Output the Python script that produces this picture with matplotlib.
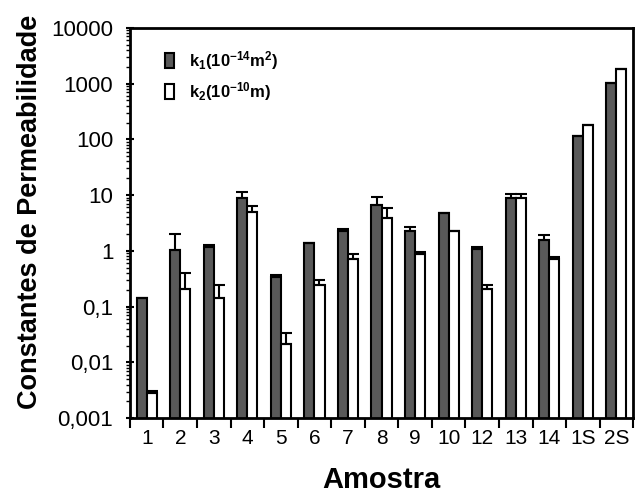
import matplotlib
matplotlib.use("Agg")
import matplotlib.pyplot as plt
import numpy as np
from matplotlib.ticker import FixedLocator, LogLocator, NullFormatter
from matplotlib.patches import Rectangle

plt.rcParams['font.family'] = ['Liberation Sans', 'DejaVu Sans']
plt.rcParams['mathtext.fontset'] = 'custom'
plt.rcParams['mathtext.rm'] = 'Liberation Sans:bold'
plt.rcParams['mathtext.bf'] = 'Liberation Sans:bold'
plt.rcParams['mathtext.it'] = 'Liberation Sans:bold'

categories = ['1', '2', '3', '4', '5', '6', '7', '8', '9', '10', '12', '13', '14', '1S', '2S']
k1 = [0.14, 1.04, 1.17, 8.8, 0.336, 1.41, 2.28, 6.7, 2.28, 4.85, 1.07, 8.8, 1.57, 116, 1020]
k1_err = [0.0, 1.0, 0.12, 2.6, 0.03, 0.0, 0.22, 2.7, 0.45, 0.0, 0.09, 1.8, 0.33, 0.0, 0.0]
k2 = [0.00285, 0.207, 0.141, 4.93, 0.021, 0.247, 0.716, 3.94, 0.88, 2.28, 0.207, 8.8, 0.716, 180, 1820]
k2_err = [0.0002, 0.2, 0.1, 1.5, 0.013, 0.05, 0.15, 1.9, 0.08, 0.0, 0.04, 1.8, 0.07, 0.0, 0.0]
ytick_vals = [0.001, 0.01, 0.1, 1, 10, 100, 1000, 10000]
ytick_labels = ['0,001', '0,01', '0,1', '1', '10', '100', '1000', '10000']

fig = plt.figure(figsize=(6.37, 4.96), dpi=100)
ax = fig.add_axes([0.204, 0.157, 0.790, 0.787])

x = np.arange(len(categories))
w = 0.3
dark = '#595959'
ax.bar(x - w/2, k1, width=w, color=dark, edgecolor='black', linewidth=1.5, zorder=2,
       yerr=[np.zeros(len(k1)), k1_err], error_kw=dict(ecolor='black', elinewidth=1.5, capsize=4, capthick=1.5))
ax.bar(x + w/2, k2, width=w, color='white', edgecolor='black', linewidth=1.5, zorder=2,
       yerr=[np.zeros(len(k2)), k2_err], error_kw=dict(ecolor='black', elinewidth=1.5, capsize=4, capthick=1.5))

ax.set_yscale('log')
ax.set_ylim(0.001, 10000)
ax.set_xlim(-0.5, len(categories) - 0.5)

ax.yaxis.set_major_locator(FixedLocator(ytick_vals))
ax.set_yticklabels(ytick_labels, fontsize=16)
ax.yaxis.set_minor_locator(LogLocator(base=10, subs=np.arange(2, 10), numticks=20))
ax.yaxis.set_minor_formatter(NullFormatter())
ax.tick_params(axis='y', which='major', length=6, width=1.5, direction='inout', pad=9)
ax.tick_params(axis='y', which='minor', length=3, width=1.0, direction='out')

ax.set_xticks(x)
ax.set_xticklabels(categories, fontsize=15)
ax.set_xticks(np.arange(len(categories) + 1) - 0.5, minor=True)
ax.tick_params(axis='x', which='major', length=0, pad=8)
ax.tick_params(axis='x', which='minor', length=7, width=1.5, direction='out')

for s in ax.spines.values():
    s.set_linewidth(2)

ax.set_xlabel('Amostra', fontsize=21, fontweight='bold', labelpad=13)
ax.set_ylabel('Constantes de Permeabilidade', fontsize=19.5, fontweight='bold')
ax.yaxis.set_label_coords(-0.173, 0.528)

# legend
h1 = Rectangle((0, 0), 1, 1, facecolor=dark, edgecolor='black', linewidth=1.5)
h2 = Rectangle((0, 0), 1, 1, facecolor='white', edgecolor='black', linewidth=1.5)
leg = ax.legend([h1, h2], [r'$\mathbf{k_1(10^{-14}m^2)}$', r'$\mathbf{k_2(10^{-10}m)}$'],
                loc='upper left', bbox_to_anchor=(0.04, 0.985), frameon=False, fontsize=12,
                handlelength=0.55, handleheight=1.0, handletextpad=0.9, labelspacing=0.5)

fig.savefig('out.png', dpi=100)
